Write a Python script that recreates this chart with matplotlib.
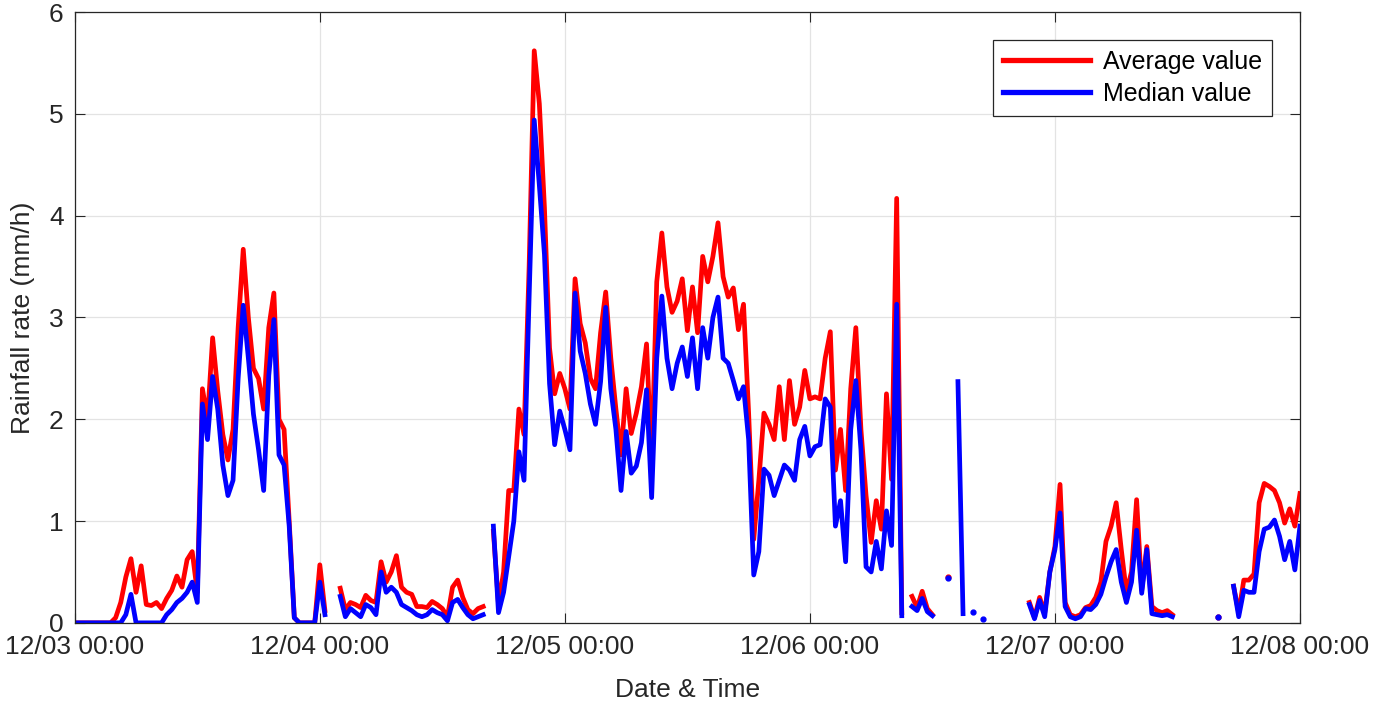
import numpy as np
import pandas as pd
import matplotlib
matplotlib.use("Agg")
import matplotlib.pyplot as plt
import matplotlib.dates as mdates

nan = np.nan

# rainfall rate (mm/h), one value every 30 min starting 12/03 00:00
avg_day1 = [0, 0, 0, 0, 0, 0, 0, 0,
            0.05, 0.2, 0.45, 0.63, 0.3, 0.56, 0.18, 0.17,
            0.2, 0.14, 0.24, 0.32, 0.46, 0.35, 0.62, 0.7,
            0.3, 2.3, 2.0, 2.8, 2.28, 1.85, 1.6, 1.9,
            2.9, 3.67, 3.0, 2.5, 2.4, 2.1, 2.9, 3.24,
            2.0, 1.9, 1.0, 0.05, 0, 0, 0, 0]
med_day1 = [0, 0, 0, 0, 0, 0, 0, 0,
            0, 0, 0.08, 0.28, 0, 0, 0, 0,
            0, 0, 0.08, 0.13, 0.2, 0.24, 0.3, 0.4,
            0.2, 2.15, 1.8, 2.42, 2.1, 1.55, 1.25, 1.4,
            2.4, 3.12, 2.6, 2.05, 1.7, 1.3, 2.43, 2.98,
            1.65, 1.55, 0.95, 0.05, 0, 0, 0, 0]

avg_day2 = [0.57, 0.12, nan, nan, 0.34, 0.13, 0.2, 0.18,
            0.15, 0.27, 0.22, 0.2, 0.6, 0.4, 0.5, 0.66,
            0.35, 0.3, 0.28, 0.16, 0.16, 0.15, 0.21, 0.18,
            0.14, 0.06, 0.35, 0.42, 0.25, 0.13, 0.09, 0.14,
            0.16, nan, 0.9, 0.18, 0.5, 1.3, 1.3, 2.1,
            1.85, 3.5, 5.62, 5.1, 4.08, 2.7, 2.25, 2.45]
med_day2 = [0.4, 0.08, nan, nan, 0.26, 0.06, 0.14, 0.1,
            0.06, 0.18, 0.15, 0.08, 0.5, 0.3, 0.35, 0.3,
            0.18, 0.15, 0.12, 0.08, 0.06, 0.08, 0.13, 0.1,
            0.08, 0.02, 0.2, 0.23, 0.15, 0.08, 0.04, 0.06,
            0.08, nan, 0.95, 0.1, 0.3, 0.65, 1.0, 1.68,
            1.4, 3.2, 4.94, 4.3, 3.62, 2.35, 1.75, 2.08]

avg_day3 = [2.3, 2.1, 3.38, 2.94, 2.75, 2.4, 2.3, 2.85,
            3.25, 2.6, 2.1, 1.65, 2.3, 1.86, 2.06, 2.32,
            2.74, 1.57, 3.35, 3.83, 3.3, 3.05, 3.16, 3.38,
            2.87, 3.3, 2.85, 3.6, 3.35, 3.6, 3.93, 3.4,
            3.2, 3.29, 2.88, 3.13, 2.06, 0.82, 1.4, 2.06,
            1.95, 1.8, 2.32, 1.8, 2.38, 1.95, 2.12, 2.48]
med_day3 = [1.9, 1.7, 3.24, 2.67, 2.45, 2.15, 1.95, 2.37,
            3.1, 2.3, 1.9, 1.3, 1.88, 1.47, 1.54, 1.77,
            2.29, 1.23, 2.6, 3.21, 2.6, 2.3, 2.55, 2.71,
            2.42, 2.8, 2.3, 2.9, 2.6, 3.0, 3.2, 2.6,
            2.55, 2.38, 2.2, 2.32, 1.8, 0.47, 0.7, 1.51,
            1.45, 1.25, 1.4, 1.55, 1.5, 1.4, 1.8, 1.93]

avg_day4 = [2.2, 2.22, 2.2, 2.6, 2.86, 1.5, 1.9, 1.3,
            2.3, 2.9, 1.9, 1.25, 0.79, 1.2, 0.92, 2.25,
            1.41, 4.17, 0.1, nan, 0.26, 0.15, 0.31, 0.14,
            0.08, nan, nan, 0.45, nan, nan, nan, nan,
            nan, nan, nan, nan, nan, nan, nan, nan,
            nan, nan, nan, 0.2, 0.05, 0.25, 0.1, 0.5]
med_day4 = [1.64, 1.73, 1.75, 2.2, 2.12, 0.95, 1.2, 0.6,
            1.9, 2.38, 1.7, 0.55, 0.5, 0.8, 0.53, 1.1,
            0.76, 3.13, 0.07, nan, 0.16, 0.12, 0.24, 0.11,
            0.07, nan, nan, 0.44, nan, 2.37, 0.09, nan,
            0.11, nan, 0.04, nan, nan, nan, nan, nan,
            nan, nan, nan, 0.18, 0.04, 0.22, 0.06, 0.5]

avg_day5 = [0.75, 1.36, 0.2, 0.08, 0.06, 0.08, 0.15, 0.17,
            0.25, 0.4, 0.8, 0.95, 1.18, 0.72, 0.3, 0.5,
            1.21, 0.32, 0.75, 0.16, 0.12, 0.1, 0.12, 0.08,
            nan, nan, nan, nan, nan, nan, nan, nan,
            0.06, nan, nan, 0.36, 0.1, 0.42, 0.42, 0.48,
            1.18, 1.37, 1.34, 1.3, 1.18, 0.98, 1.12, 0.95,
            1.27]
med_day5 = [0.72, 1.08, 0.16, 0.06, 0.04, 0.06, 0.14, 0.13,
            0.18, 0.28, 0.45, 0.6, 0.72, 0.4, 0.2, 0.4,
            0.91, 0.29, 0.72, 0.09, 0.08, 0.07, 0.08, 0.06,
            nan, nan, nan, nan, nan, nan, nan, nan,
            0.06, nan, nan, 0.36, 0.06, 0.32, 0.3, 0.3,
            0.7, 0.92, 0.94, 1.01, 0.85, 0.62, 0.8, 0.52,
            0.95]

start = "2019-12-03 00:00"
step = "30min"
labels = ["Average value", "Median value"]

avg = np.array(avg_day1 + avg_day2 + avg_day3 + avg_day4 + avg_day5, dtype=float)
med = np.array(med_day1 + med_day2 + med_day3 + med_day4 + med_day5, dtype=float)
times = pd.date_range(start, periods=len(avg), freq=step)

plt.rcParams['font.family'] = ['Liberation Sans', 'DejaVu Sans']
fs = 19

fig = plt.figure(figsize=(13.85, 7.11), dpi=100)
ax = fig.add_axes([0.054, 0.124, 0.8846, 0.859])


def lonely(v):
    # points with no neighbour on either side would not show as a line
    ok = ~np.isnan(v)
    prev = np.r_[False, ok[:-1]]
    nxt = np.r_[ok[1:], False]
    return ok & ~prev & ~nxt


for v, col, lab in [(avg, '#ff0000', labels[0]), (med, '#0000ff', labels[1])]:
    ax.plot(times, v, color=col, lw=3.4, label=lab, solid_joinstyle='round')
    m = lonely(v)
    ax.plot(times[m], v[m], 'o', color=col, ms=3.5, mec=col)

ax.set_xlim(times[0], times[-1])
ax.set_ylim(0, 6)
ax.set_yticks(range(0, 7))
ax.xaxis.set_major_locator(mdates.DayLocator())
ax.xaxis.set_major_formatter(mdates.DateFormatter('%m/%d %H:%M'))

ax.grid(True, color='#e3e3e3', lw=0.9)
ax.set_axisbelow(True)
ax.tick_params(direction='in', top=True, right=True, length=7, width=0.8,
               colors='#262626', labelsize=fs)
ax.tick_params(axis='x', pad=8.5)
ax.tick_params(axis='y', pad=8)
for s in ax.spines.values():
    s.set_color('#262626')
    s.set_linewidth(0.9)

ax.set_xlabel('Date & Time', fontsize=fs, color='#262626', labelpad=14)
ax.set_ylabel('Rainfall rate (mm/h)', fontsize=fs, color='#262626', labelpad=10)

leg = ax.legend(loc='upper right', bbox_to_anchor=(0.977, 0.954), borderaxespad=0,
                fancybox=False, framealpha=1, edgecolor='#262626', handlelength=3.5,
                fontsize=18, borderpad=0.4, labelspacing=0.3, handletextpad=0.5)
leg.get_frame().set_linewidth(0.9)
for h in leg.get_lines():
    h.set_linewidth(3.8)

fig.savefig('out.png', dpi=100)
